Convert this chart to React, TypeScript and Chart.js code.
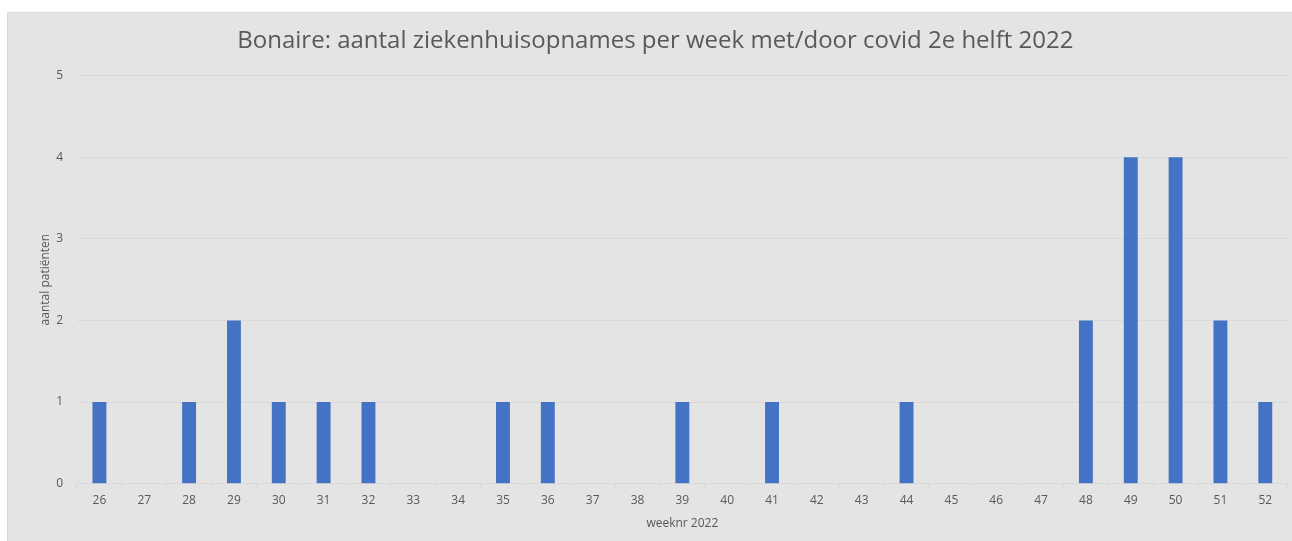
import React, { useEffect, useRef } from "react";
import { Chart, registerables } from "chart.js";

Chart.register(...registerables);

const weeks: string[] = [
  "26", "27", "28", "29", "30", "31", "32", "33", "34", "35", "36", "37", "38", "39",
  "40", "41", "42", "43", "44", "45", "46", "47", "48", "49", "50", "51", "52",
];
const patients: number[] = [
  1, 0, 1, 2, 1, 1, 1, 0, 0, 1, 1, 0, 0, 1,
  0, 1, 0, 0, 1, 0, 0, 0, 2, 4, 4, 2, 1,
];
const chartTitle = "Bonaire: aantal ziekenhuisopnames per week met/door covid 2e helft 2022";
const xTitle = "weeknr 2022";
const yTitle = "aantal patiënten";

const FONT = "'Open Sans', 'Noto Sans', sans-serif";
const TEXT = "#595959";
const GRID = "#d9d9d9";

export default function App() {
  const ref = useRef<HTMLCanvasElement | null>(null);

  useEffect(() => {
    if (!ref.current) return;
    const chart = new Chart(ref.current, {
      type: "bar",
      data: {
        labels: weeks,
        datasets: [
          {
            label: yTitle,
            data: patients,
            backgroundColor: "#4472c4",
            borderWidth: 0,
            barPercentage: 0.31,
            categoryPercentage: 1,
          },
        ],
      },
      options: {
        animation: false,
        responsive: true,
        maintainAspectRatio: false,
        layout: { padding: { left: 15, right: 4.3, top: 0, bottom: 0 } },
        plugins: {
          legend: { display: false },
          tooltip: { enabled: false },
          title: {
            display: true,
            text: chartTitle,
            color: TEXT,
            font: { family: FONT, size: 24, weight: "normal" },
            padding: { top: 13.6, bottom: 20.1 },
          },
        },
        scales: {
          x: {
            grid: {
              drawOnChartArea: false,
              drawTicks: true,
              tickLength: 5,
              color: GRID,
            },
            border: { display: true, color: GRID },
            ticks: {
              color: TEXT,
              font: { family: FONT, size: 12 },
              padding: 4.8,
              maxRotation: 0,
              autoSkip: false,
            },
            title: {
              display: true,
              text: xTitle,
              color: TEXT,
              font: { family: FONT, size: 12 },
              padding: { top: 0, bottom: 9.8 },
            },
            afterFit: (scale: any) => {
              scale.height = 57.3;
            },
          },
          y: {
            min: 0,
            max: 5,
            grid: { color: GRID, drawTicks: false },
            border: { display: false },
            ticks: {
              stepSize: 1,
              color: TEXT,
              font: { family: FONT, size: 12 },
              padding: 14,
            },
            title: {
              display: true,
              text: yTitle,
              color: TEXT,
              font: { family: FONT, size: 12 },
              padding: { top: 15.8, bottom: 0 },
            },
            afterFit: (scale: any) => {
              scale.width = 54;
            },
          },
        },
      },
    });
    return () => chart.destroy();
  }, []);

  return (
    <div
      style={{
        position: "fixed",
        left: 8,
        top: 13,
        width: 1284,
        height: 528,
        background: "#e4e4e4",
        boxShadow: "0 0 0 1px #d9d9d9",
      }}
    >
      <canvas ref={ref} />
    </div>
  );
}
